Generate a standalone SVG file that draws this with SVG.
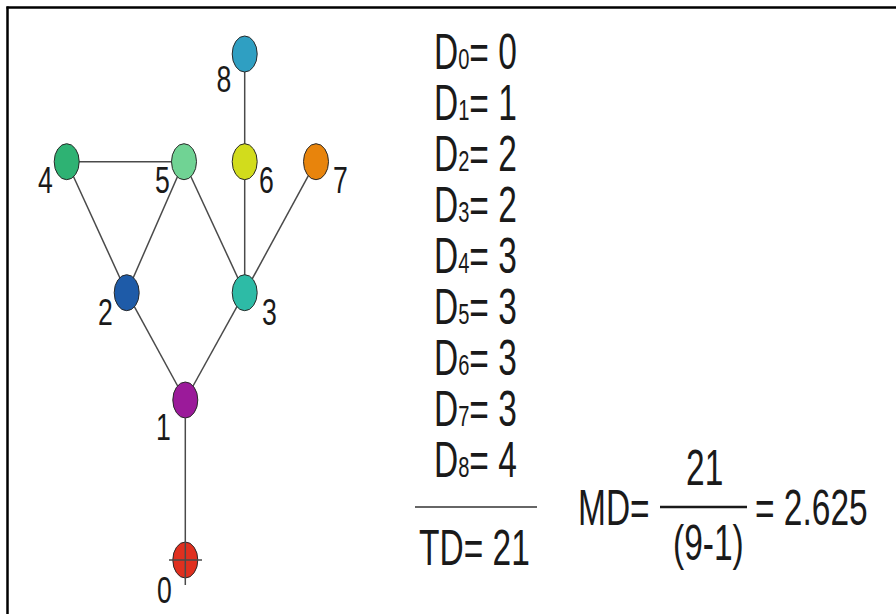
<svg xmlns="http://www.w3.org/2000/svg" width="896" height="614" viewBox="0 0 896 614">
<style>
  .edge { stroke: #4a4a4a; stroke-width: 1.5; fill: none; }
  .node { stroke: #2a2a2a; stroke-width: 1; }
  .lbl { font-family: "Liberation Sans", Arial, sans-serif; font-size: 37px; fill: #1a1a1a; }
  .eq { font-family: "Liberation Sans", Arial, sans-serif; font-size: 50px; fill: #1a1a1a; }
  .sub { font-size: 30px; }
</style>
<rect x="0" y="0" width="896" height="614" fill="#ffffff"/>
<g id="frame" stroke="#000" stroke-width="2.5">
  <line x1="6.5" y1="7.5" x2="896" y2="7.5"/>
  <line x1="7.5" y1="6.5" x2="7.5" y2="614"/>
</g>
<g id="connectors">
  <line class="edge" x1="66.7" y1="161.7" x2="184" y2="161.7"/>
  <line class="edge" x1="66.7" y1="161.7" x2="126.7" y2="292.7"/>
  <line class="edge" x1="184" y1="161.7" x2="126.7" y2="292.7"/>
  <line class="edge" x1="184" y1="161.7" x2="244.7" y2="292.7"/>
  <line class="edge" x1="244.7" y1="54" x2="244.7" y2="292.7"/>
  <line class="edge" x1="316" y1="161.7" x2="244.7" y2="292.7"/>
  <line class="edge" x1="126.7" y1="292.7" x2="185.3" y2="400"/>
  <line class="edge" x1="244.7" y1="292.7" x2="185.3" y2="400"/>
</g>
<g id="n8"><ellipse class="node" cx="244.7" cy="54" rx="12.5" ry="18" fill="#2f9fc2"/><text class="lbl" transform="translate(216.5 92) scale(0.72 1)">8</text></g>
<g id="n4"><ellipse class="node" cx="66.7" cy="161.7" rx="12.5" ry="18" fill="#2eb273"/><text class="lbl" transform="translate(38 193) scale(0.72 1)">4</text></g>
<g id="n5"><ellipse class="node" cx="184" cy="161.7" rx="12.5" ry="18" fill="#70d394"/><text class="lbl" transform="translate(155 193) scale(0.72 1)">5</text></g>
<g id="n6"><ellipse class="node" cx="244.7" cy="161.7" rx="12.5" ry="18" fill="#d2dc1c"/><text class="lbl" transform="translate(259 193) scale(0.72 1)">6</text></g>
<g id="n7"><ellipse class="node" cx="316" cy="161.7" rx="12.5" ry="18" fill="#e8840c"/><text class="lbl" transform="translate(333 193) scale(0.72 1)">7</text></g>
<g id="n2"><ellipse class="node" cx="126.7" cy="292.7" rx="12.5" ry="18" fill="#1e5ba8"/><text class="lbl" transform="translate(98 325) scale(0.72 1)">2</text></g>
<g id="n3"><ellipse class="node" cx="244.7" cy="292.7" rx="12.5" ry="18" fill="#2dbba6"/><text class="lbl" transform="translate(262 325) scale(0.72 1)">3</text></g>
<g id="n1"><ellipse class="node" cx="185.3" cy="400" rx="12.5" ry="18" fill="#9b1a9a"/><text class="lbl" transform="translate(156 440) scale(0.72 1)">1</text></g>
<g id="n0"><ellipse class="node" cx="185.3" cy="560" rx="12.5" ry="18" fill="#e0301f"/><text class="lbl" transform="translate(157 603) scale(0.72 1)">0</text></g>
<g id="connector-1-0">
  <line class="edge" x1="185.3" y1="418" x2="185.3" y2="585"/>
  <line class="edge" x1="169" y1="560" x2="202" y2="560"/>
</g>
<g id="distances">
  <text class="eq" transform="translate(434 68.5) scale(0.67 1)">D<tspan class="sub">0</tspan>= 0</text>
  <text class="eq" transform="translate(434 119.6) scale(0.67 1)">D<tspan class="sub">1</tspan>= 1</text>
  <text class="eq" transform="translate(434 170.7) scale(0.67 1)">D<tspan class="sub">2</tspan>= 2</text>
  <text class="eq" transform="translate(434 221.8) scale(0.67 1)">D<tspan class="sub">3</tspan>= 2</text>
  <text class="eq" transform="translate(434 272.9) scale(0.67 1)">D<tspan class="sub">4</tspan>= 3</text>
  <text class="eq" transform="translate(434 324) scale(0.67 1)">D<tspan class="sub">5</tspan>= 3</text>
  <text class="eq" transform="translate(434 375.1) scale(0.67 1)">D<tspan class="sub">6</tspan>= 3</text>
  <text class="eq" transform="translate(434 426.2) scale(0.67 1)">D<tspan class="sub">7</tspan>= 3</text>
  <text class="eq" transform="translate(434 477.3) scale(0.67 1)">D<tspan class="sub">8</tspan>= 4</text>
  <line x1="415" y1="507" x2="537" y2="507" stroke="#333" stroke-width="1.5"/>
  <text class="eq" transform="translate(419 565) scale(0.67 1)">TD= 21</text>
</g>
<g id="mean">
  <text class="eq" transform="translate(578 525) scale(0.67 1)">MD=</text>
  <text class="eq" transform="translate(686 485) scale(0.67 1)">21</text>
  <line x1="660" y1="507" x2="747" y2="507" stroke="#1a1a1a" stroke-width="2.5"/>
  <text class="eq" transform="translate(673 560) scale(0.67 1)">(9-1)</text>
  <text class="eq" transform="translate(755 525) scale(0.67 1)">= 2.625</text>
</g>
</svg>
